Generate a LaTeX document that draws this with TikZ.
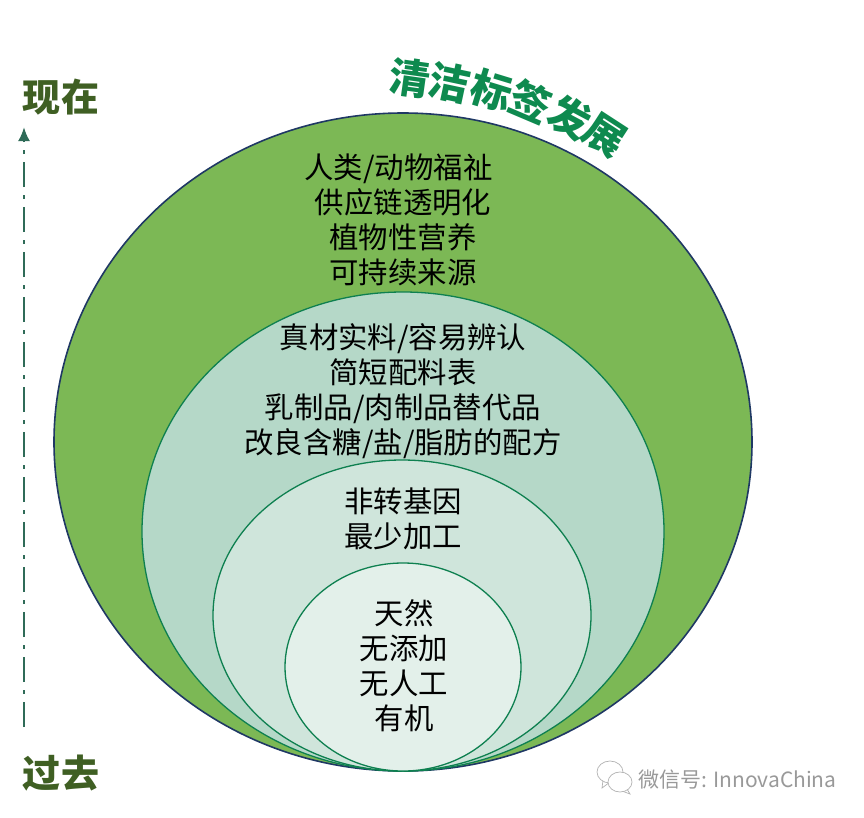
\documentclass[tikz,border=0pt]{standalone}
\usepackage{fontspec}
\setmainfont{Noto Sans CJK SC}[BoldFont={Noto Sans CJK SC Black}]
\usetikzlibrary{arrows.meta}
\definecolor{CleanOuter}{HTML}{7CB855}
\definecolor{CleanSecond}{HTML}{B5D8C8}
\definecolor{CleanThird}{HTML}{CFE5DB}
\definecolor{CleanInner}{HTML}{E3F0EA}
\definecolor{CleanEdge}{HTML}{0E8050}
\definecolor{CleanNavy}{HTML}{1F3864}
\definecolor{CleanTitle}{HTML}{0E8A4F}
\definecolor{TimeInk}{HTML}{3F5F23}
\definecolor{TimeArrow}{HTML}{2F6B58}
\begin{document}
\begin{tikzpicture}[
  x=1pt,
  y=-1pt,
  ringtext/.style={align=center, text=black, font=\fontsize{29.4}{35}\selectfont},
  timelabel/.style={text=TimeInk, font=\fontsize{38}{42}\selectfont\bfseries},
  titlechar/.style={text=CleanTitle, font=\fontsize{41}{45}\selectfont\bfseries},
  timearrow/.style={-{Latex[length=14pt,width=12pt]}, line width=2.4pt, draw=TimeArrow,
    dash pattern=on 25pt off 8pt on 4pt off 8pt},
  marktext/.style={text=black!40, font=\fontsize{21}{25}\selectfont},
  bubble/.style={draw=black!30, line width=0.7pt, fill=white}
]
\useasboundingbox (0,0) rectangle (864,817);

\draw[line width=1.6pt, draw=CleanNavy, fill=CleanOuter] (403,442) ellipse [x radius=349, y radius=329];
\draw[line width=1.3pt, draw=CleanEdge, fill=CleanSecond] (403,531.5) ellipse [x radius=261, y radius=239.5];
\draw[line width=1.3pt, draw=CleanEdge, fill=CleanThird] (402,615.5) ellipse [x radius=189, y radius=155.5];
\draw[line width=1.3pt, draw=CleanEdge, fill=CleanInner] (403,667) ellipse [x radius=118, y radius=104];

\node[ringtext] (outertext) at (403,220) {人类/动物福祉\makebox[9pt]{}\\供应链透明化\\植物性营养\\可持续来源};
\node[ringtext] (secondtext) at (403,391) {真材实料/容易辨认\\简短配料表\\乳制品/肉制品替代品\\改良含糖/盐/脂肪的配方};
\node[ringtext] (thirdtext) at (403,518.5) {非转基因\\最少加工};
\node[ringtext] (innertext) at (404,665.5) {天然\\无添加\\无人工\\有机};

\foreach \c/\px/\py/\r [count=\i] in {清/410/78/-8, 洁/450/83/-12, 标/492/91/-17, 签/531/102/-23, 发/570/117/-28, 展/605/135/-33}
  \node[titlechar, rotate=\r, inner sep=0pt] (title\i) at (\px,\py) {\c};

\node[timelabel] (now) at (61,97) {现在};
\node[timelabel] (past) at (61,773) {过去};
\coordinate (arrowstart) at (24,727);
\coordinate (arrowend) at (24,127);
\draw[timearrow] (arrowstart) -- (arrowend);

% watermark
\draw[bubble] (603,780) -- (602,788) -- (610,782);
\draw[bubble] (610,772) ellipse [x radius=13, y radius=11];
\draw[bubble] (627,789) -- (630,794) -- (622,791);
\draw[bubble] (620,782) ellipse [x radius=12, y radius=10];
\node[marktext, anchor=west, inner sep=0pt] (mark) at (638,780) {微信号: InnovaChina};
\end{tikzpicture}
\end{document}
